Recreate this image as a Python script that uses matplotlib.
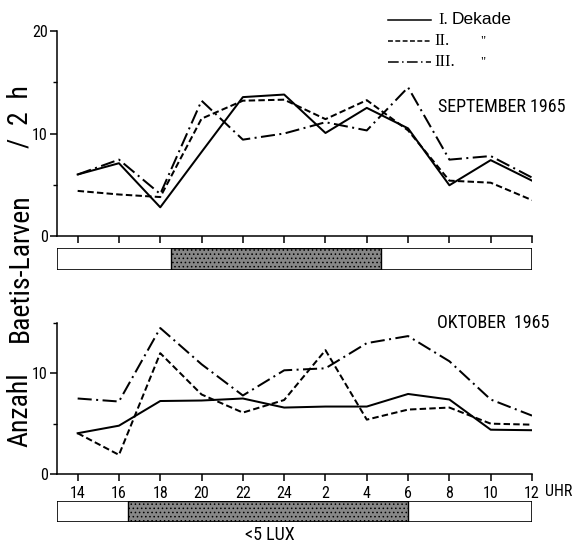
import matplotlib
matplotlib.use("Agg")
import matplotlib.pyplot as plt
from matplotlib.patches import Rectangle
from matplotlib.lines import Line2D

# ---- data ----
hours = [14, 16, 18, 20, 22, 24, 26, 28, 30, 32, 34, 36]
tick_labels = ["14", "16", "18", "20", "22", "24", "2", "4", "6", "8", "10", "12"]
series_labels = ["I. Dekade", "II.", "III."]

sep_I = [6.0, 7.1, 2.8, 8.2, 13.55, 13.8, 10.05, 12.5, 10.5, 4.95, 7.4, 5.4]
sep_II = [4.4, 4.05, 3.8, 11.45, 13.2, 13.3, 11.4, 13.25, 10.3, 5.4, 5.2, 3.5]
sep_III = [6.0, 7.45, 4.1, 13.2, 9.4, 10.0, 11.1, 10.3, 14.5, 7.45, 7.8, 5.7]

okt_I = [4.05, 4.8, 7.25, 7.3, 7.5, 6.6, 6.7, 6.7, 7.95, 7.4, 4.4, 4.35]
okt_II = [4.05, 1.9, 12.0, 7.9, 6.1, 7.35, 12.3, 5.4, 6.4, 6.6, 5.0, 4.9]
okt_III = [7.5, 7.2, 14.5, 10.9, 7.8, 10.3, 10.5, 13.0, 13.7, 11.2, 7.4, 5.8]

sep_dark = (18.5, 28.67)   # dark period (hours, continuous)
okt_dark = (16.45, 30.0)

# ---- style ----
NARROW = ['Roboto Condensed', 'Arial Narrow', 'Roboto', 'DejaVu Sans']
SANS = ['Liberation Sans', 'DejaVu Sans']
SERIF = ['Liberation Serif', 'DejaVu Serif']
styles = ['-', (0, (3.2, 1.6)), (0, (7, 2.2, 1, 2.2))]
LW = 1.45

W, H = 580, 544
fig = plt.figure(figsize=(W / 100, H / 100), dpi=100)


def rect(x0, y0, x1, y1):
    return [x0 / W, 1 - y1 / H, (x1 - x0) / W, (y1 - y0) / H]


def fx(x):
    return x / W


def fy(y):
    return 1 - y / H


def style_axes(ax, ymax, yticks, yminor, show_xlabels):
    ax.set_xlim(13, 36)
    ax.set_ylim(0, ymax)
    for s in ['top', 'right']:
        ax.spines[s].set_visible(False)
    for s in ['left', 'bottom']:
        ax.spines[s].set_linewidth(1.1)
    ax.set_xticks(hours)
    ax.set_yticks(yticks)
    ax.set_yticks(yminor, minor=True)
    ax.tick_params(axis='x', direction='out', length=5, width=1.1, pad=3.5)
    ax.tick_params(axis='y', which='major', direction='out', length=5, width=1.1, pad=1.5)
    ax.tick_params(axis='y', which='minor', direction='out', length=3, width=1.0)
    ax.set_yticklabels([str(v) for v in yticks], family=NARROW, fontsize=11.5)
    if show_xlabels:
        ax.set_xticklabels(tick_labels, family=NARROW, fontsize=11.5)
    else:
        ax.set_xticklabels([])


ax1 = fig.add_axes(rect(57, 31, 532, 236))
for vals, ls in zip([sep_I, sep_II, sep_III], styles):
    ax1.plot(hours, vals, color='black', lw=LW, linestyle=ls)
style_axes(ax1, 20, [0, 10, 20], [5, 15], False)

ax2 = fig.add_axes(rect(57, 323, 532, 474))
for vals, ls in zip([okt_I, okt_II, okt_III], styles):
    ax2.plot(hours, vals, color='black', lw=LW, linestyle=ls)
style_axes(ax2, 15, [0, 10], [5, 15], True)

plt.rcParams['hatch.color'] = '#5a5a5a'
plt.rcParams['hatch.linewidth'] = 0.6


def light_bar(box, dark):
    axb = fig.add_axes(rect(*box))
    axb.set_xlim(13, 36)
    axb.set_ylim(0, 1)
    axb.axis('off')
    axb.add_patch(Rectangle((dark[0], 0), dark[1] - dark[0], 1,
                            facecolor='#878787', edgecolor='black', lw=1.0,
                            hatch='....'))
    axb.add_patch(Rectangle((13, 0), 23, 1, facecolor='none',
                            edgecolor='black', lw=1.2))
    return axb


light_bar((57, 248, 532, 270), sep_dark)
light_bar((57, 501, 532, 522), okt_dark)

# ---- texts ----
fig.text(fx(545), fy(496), "UHR", family=NARROW, fontsize=11.5, ha='left', va='baseline')
fig.text(fx(270), fy(540), "<5 LUX", family=NARROW, fontsize=13, ha='center', va='baseline')
fig.text(fx(438), fy(112), "SEPTEMBER 1965", family=NARROW, fontsize=13, ha='left', va='baseline')
fig.text(fx(437), fy(328), "OKTOBER  1965", family=NARROW, fontsize=13, ha='left', va='baseline')
# y label, placed word by word as in the reference
for word, yc in [("Anzahl", 410), ("Baetis-Larven", 268), ("/  2  h", 117)]:
    fig.text(fx(20), fy(yc), word, family=NARROW, fontsize=20,
             rotation=90, ha='center', va='center')

# legend (manual)
rows_y = [20, 41, 62]
for i, (lab, ls, yy) in enumerate(zip(series_labels, styles, rows_y)):
    fig.add_artist(Line2D([fx(388), fx(431)], [fy(yy), fy(yy)], color='black',
                          lw=1.1, linestyle=ls))
    if i == 0:
        fig.text(fx(438), fy(yy), "I.", family=SERIF, fontsize=12, ha='left', va='center')
        fig.text(fx(452), fy(yy - 1), "Dekade", family=SANS, fontsize=12.5, ha='left', va='center')
    else:
        fig.text(fx(434), fy(yy), lab, family=SERIF, fontsize=12, ha='left', va='center')
        fig.text(fx(480), fy(yy), '"', family=SERIF, fontsize=9, ha='left', va='center')

fig.savefig("out.png", dpi=100)
